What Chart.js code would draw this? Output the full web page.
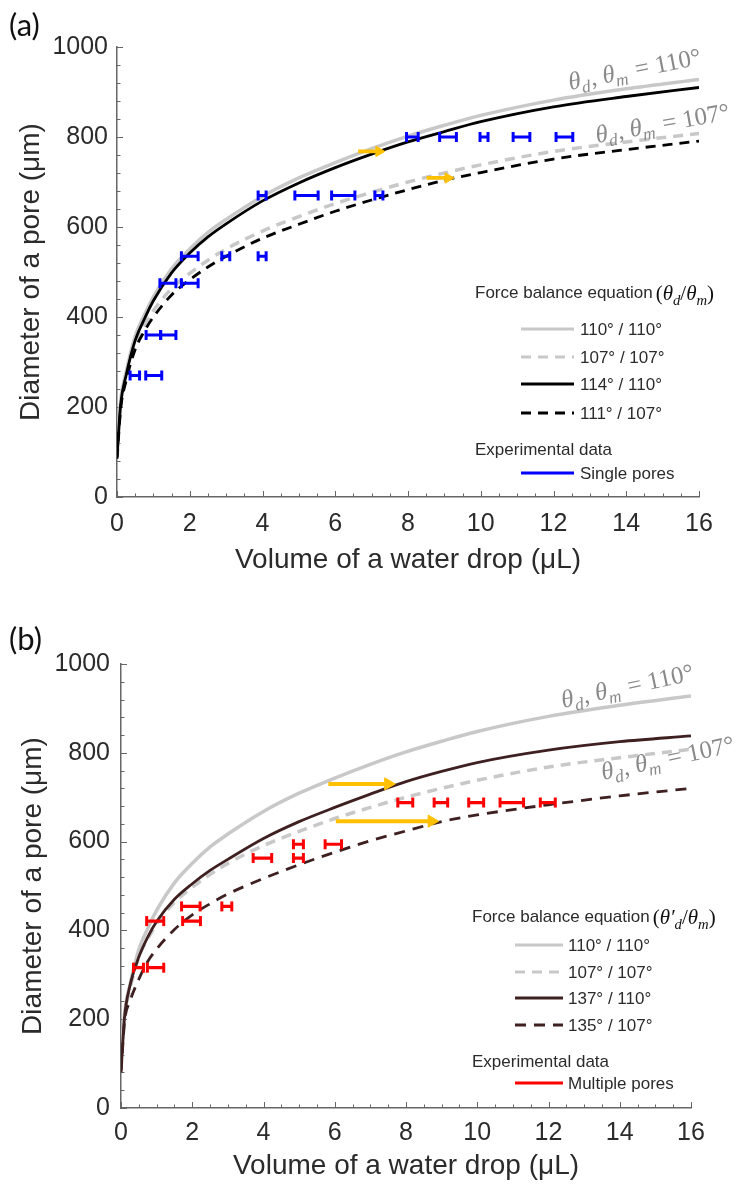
<!DOCTYPE html>
<html>
<head>
<meta charset="utf-8">
<script src="https://cdn.jsdelivr.net/npm/chart.js@4.4.1/dist/chart.umd.min.js"></script>
<style>
  html, body { margin: 0; padding: 0; background: #fff; }
  .panel { position: relative; width: 735px; height: 594px; }
  canvas { display: block; }
</style>
</head>
<body>
<div class="panel"><canvas id="poreA" width="735" height="594"></canvas></div>
<div class="panel"><canvas id="poreB" width="735" height="594"></canvas></div>
<script>
const SANS = '"Liberation Sans", Arial, sans-serif';
const SERIF = '"Liberation Serif", "DejaVu Serif", serif';
const INK = '#2b2b2b';
const AXIS = '#666';
const GOLD = '#FFC000';

// axis ticks
const X_TICKS = [0, 2, 4, 6, 8, 10, 12, 14, 16];
const Y_TICKS = [0, 200, 400, 600, 800, 1000];

// drop volume (uL) at which the model curves are sampled
const VOL = [0, 0.1, 0.25, 0.5, 0.75, 1, 1.5, 2, 2.5, 3, 4, 5, 6, 7, 8, 9, 10, 12, 14, 16];

// force balance curves, pore diameter (um)
const GREY_110 = [90, 212, 277, 357, 404, 445, 507, 551, 588, 617, 668, 709, 743, 774, 802, 826, 848, 882, 907, 928];
const GREY_107 = [86, 202, 267, 340, 381, 414, 463, 497, 526, 551, 591, 623, 652, 677, 700, 720, 738, 768, 789, 808];
const A_114_110 = [89, 205, 270, 348, 395, 436, 498, 542, 578, 607, 658, 698, 732, 762, 789, 812, 834, 867, 890, 910];
const A_111_107 = [85, 195, 258, 328, 368, 400, 449, 483, 511, 535, 575, 606, 635, 660, 683, 704, 721, 751, 772, 791];
const B_137_110 = [83, 205, 275, 340, 385, 420, 470, 505, 535, 560, 607, 645, 677, 707, 735, 758, 778, 806, 825, 838];
const B_135_107 = [80, 195, 240, 290, 330, 358, 402, 435, 460, 482, 517, 548, 576, 602, 624, 645, 660, 683, 703, 720];

// single pores: mean volume, half spread, pore diameter
const SINGLE_VOL = [0.49, 1.01, 1.0, 1.41, 1.4, 2.0, 2.0, 2.99, 3.99, 3.99, 5.21, 6.22, 7.2, 8.12, 9.1, 10.09, 11.12, 12.3];
const SINGLE_ERR = [0.13, 0.22, 0.2, 0.21, 0.22, 0.23, 0.23, 0.11, 0.11, 0.11, 0.32, 0.32, 0.11, 0.16, 0.23, 0.11, 0.23, 0.23];
const SINGLE_DIA = [270, 270, 360, 360, 475, 475, 535, 535, 535, 670, 670, 670, 670, 800, 800, 800, 800, 800];

// multiple pores
const MULTI_VOL = [0.49, 0.97, 0.96, 1.98, 1.96, 2.97, 3.97, 4.98, 4.98, 5.96, 7.98, 8.98, 9.97, 10.97, 11.98];
const MULTI_ERR = [0.14, 0.23, 0.24, 0.25, 0.26, 0.14, 0.26, 0.14, 0.14, 0.23, 0.21, 0.19, 0.21, 0.33, 0.21];
const MULTI_DIA = [316, 316, 421, 421, 454, 454, 563, 563, 594, 594, 688, 688, 688, 688, 688];

// shift arrows between the curve pairs
const ARROW_A_FROM = [6.63, 8.51];
const ARROW_A_TO = [7.2, 9.1];
const ARROW_A_DIA = [768, 709];
const ARROW_B_FROM = [5.82, 6.03];
const ARROW_B_TO = [7.5, 8.72];
const ARROW_B_DIA = [730, 646];

const curve = ys => VOL.map((v, i) => ({x: v, y: ys[i]}));
const bars = (vol, err, dia) => vol.flatMap((v, i) => [
  {x: v - err[i], y: dia[i]}, {x: v + err[i], y: dia[i]}, {x: v, y: null}]);
const arrows = (from, to, dia) => from.flatMap((f, i) => [
  {x: f, y: dia[i]}, {x: to[i], y: dia[i]}, {x: to[i], y: null}]);

function modelSet(label, ys, color, width, dash, order) {
  return {
    label, data: curve(ys), borderColor: color, borderWidth: width, borderDash: dash || [],
    pointRadius: 0, cubicInterpolationMode: 'monotone', fill: false, order
  };
}
function barSet(label, vol, err, dia, color) {
  return {
    label, data: bars(vol, err, dia), borderColor: color, borderWidth: 3.2,
    pointStyle: 'line', pointRotation: 90, pointRadius: 5,
    pointBorderColor: color, pointBorderWidth: 3, spanGaps: false, order: 1
  };
}
function arrowSet(from, to, dia, width, head) {
  return {
    label: 'shift', data: arrows(from, to, dia), borderColor: GOLD, borderWidth: width,
    pointStyle: 'triangle', pointRotation: 90,
    pointRadius: c => (c.dataIndex % 3 === 1 ? head : 0),
    pointBackgroundColor: GOLD, pointBorderColor: GOLD, pointBorderWidth: 1,
    spanGaps: false, order: 0
  };
}

// mixed upright / italic / subscript text on one baseline
function drawMath(ctx, parts, x, y, size, color) {
  ctx.save();
  ctx.fillStyle = color;
  ctx.textBaseline = 'alphabetic';
  let cx = x;
  for (const p of parts) {
    const s = p.sub ? size * 0.7 : size;
    ctx.font = (p.it ? 'italic ' : '') + s + 'px ' + SERIF;
    ctx.fillText(p.t, cx, y + (p.sub ? size * 0.22 : 0));
    cx += ctx.measureText(p.t).width + (p.gap || 0);
  }
  ctx.restore();
  return cx;
}

const inwardTicks = {
  id: 'inwardTicks',
  beforeDatasetsDraw(chart) {
    const {ctx, chartArea: a, scales: {x, y}} = chart;
    ctx.save();
    ctx.strokeStyle = AXIS;
    ctx.lineWidth = 1;
    ctx.beginPath();
    for (let v = 0; v <= 16; v += 0.5) {
      const px = Math.round(x.getPixelForValue(v)) + 0.5;
      ctx.moveTo(px, a.bottom);
      ctx.lineTo(px, a.bottom - (v % 2 === 0 ? 6 : 3.5));
    }
    for (let v = 0; v <= 1000; v += 40) {
      const py = Math.round(y.getPixelForValue(v)) + 0.5;
      ctx.moveTo(a.left, py);
      ctx.lineTo(a.left + (v % 200 === 0 ? 6 : 3.5), py);
    }
    ctx.stroke();
    ctx.restore();
  }
};

const decorations = {
  id: 'decorations',
  afterDraw(chart, args, o) {
    const ctx = chart.ctx;
    // panel letter
    ctx.save();
    ctx.fillStyle = '#111';
    ctx.font = '31px Lato, ' + SANS;
    ctx.textBaseline = 'middle';
    ctx.fillText(o.letter, 9, o.letterY);
    ctx.restore();

    // rotated curve labels
    for (const n of o.notes) {
      ctx.save();
      ctx.translate(n.x, n.y);
      ctx.rotate(n.rot * Math.PI / 180);
      drawMath(ctx, [
        {t: '\u03B8', it: 1}, {t: 'd', it: 1, sub: 1, gap: 1}, {t: ', '},
        {t: '\u03B8', it: 1}, {t: 'm', it: 1, sub: 1, gap: 2}, {t: ' = ' + n.text}
      ], 0, 0, 25, '#8a8a8a');
      ctx.restore();
    }

    // legend
    const L = o.legend;
    ctx.save();
    ctx.fillStyle = INK;
    ctx.textBaseline = 'middle';
    ctx.font = '17px ' + SANS;
    ctx.fillText('Force balance equation', L.x, L.titleY);
    const tx = L.x + ctx.measureText('Force balance equation').width + 3;
    drawMath(ctx, L.math, tx, L.titleY + 7, 21, '#111');
    ctx.font = '17px ' + SANS;
    ctx.fillText('Experimental data', L.x, L.expY);
    for (const r of L.rows) {
      const ds = chart.data.datasets[r.ds];
      ctx.save();
      ctx.strokeStyle = ds.borderColor;
      ctx.lineWidth = Math.min(ds.borderWidth, 3);
      ctx.setLineDash(ds.borderDash || []);
      ctx.beginPath();
      ctx.moveTo(L.lineX0, r.y);
      ctx.lineTo(L.lineX1, r.y);
      ctx.stroke();
      ctx.restore();
      ctx.fillText(ds.label, L.textX, r.y + 1);
    }
    ctx.restore();
  }
};

function scales(o) {
  return {
    x: {
      type: 'linear', min: 0, max: 16,
      afterBuildTicks: s => { s.ticks = X_TICKS.map(value => ({value})); },
      afterFit: s => { s.height = o.xHeight; },
      ticks: {color: INK, font: {family: SANS, size: 25}, padding: o.xPad, maxRotation: 0,
              autoSkip: false, callback: v => String(v)},
      grid: {drawOnChartArea: false, drawTicks: false},
      border: {color: AXIS, width: 1.5},
      title: {display: true, text: 'Volume of a water drop (\u03BCL)', color: INK,
              font: {family: SANS, size: 28}, padding: {top: 0, bottom: o.xTitlePad}}
    },
    y: {
      type: 'linear', min: 0, max: 1000,
      afterBuildTicks: s => { s.ticks = Y_TICKS.map(value => ({value})); },
      afterFit: s => { s.width = o.yWidth; },
      ticks: {color: INK, font: {family: SANS, size: 25}, padding: o.yPad, callback: v => String(v)},
      grid: {drawOnChartArea: false, drawTicks: false},
      border: {color: AXIS, width: 1.5},
      title: {display: true, text: 'Diameter of a pore (\u03BCm)', color: INK,
              font: {family: SANS, size: 28}, padding: {top: o.yTitlePad, bottom: 0}}
    }
  };
}

function build(id, datasets, layout, deco) {
  return new Chart(document.getElementById(id), {
    type: 'line',
    data: {datasets},
    options: {
      responsive: false, animation: false, events: [],
      layout: {padding: layout.padding},
      plugins: {legend: {display: false}, tooltip: {enabled: false}, decorations: deco},
      scales: scales(layout)
    },
    plugins: [inwardTicks, decorations]
  });
}

const DASH = [10, 7];

build('poreA', [
  modelSet('110\u00B0 / 110\u00B0', GREY_110, '#c8c8c8', 3.5, null, 4),
  modelSet('107\u00B0 / 107\u00B0', GREY_107, '#c8c8c8', 3.5, DASH, 4),
  modelSet('114\u00B0 / 110\u00B0', A_114_110, '#000', 2.8, null, 3),
  modelSet('111\u00B0 / 107\u00B0', A_111_107, '#000', 2.8, DASH, 3),
  barSet('Single pores', SINGLE_VOL, SINGLE_ERR, SINGLE_DIA, '#0000ff'),
  arrowSet(ARROW_A_FROM, ARROW_A_TO, ARROW_A_DIA, 3.8, 6)
], {
  padding: {top: 47, right: 36, left: 0, bottom: 0},
  xHeight: 97, yWidth: 117, xPad: 12, yPad: 9, xTitlePad: 17, yTitlePad: 14
}, {
  letter: '(a)', letterY: 26,
  notes: [
    {x: 570, y: 90, rot: -11, text: '110\u00B0'},
    {x: 597, y: 143, rot: -10, text: '107\u00B0'}
  ],
  legend: {
    x: 475, titleY: 293, expY: 450, lineX0: 521, lineX1: 574, textX: 580,
    math: [{t: '('}, {t: '\u03B8', it: 1}, {t: 'd', it: 1, sub: 1}, {t: '/'},
           {t: '\u03B8', it: 1}, {t: 'm', it: 1, sub: 1}, {t: ')'}],
    rows: [{ds: 0, y: 329}, {ds: 1, y: 357}, {ds: 2, y: 384}, {ds: 3, y: 413}, {ds: 4, y: 473}]
  }
});

build('poreB', [
  modelSet('110\u00B0 / 110\u00B0', GREY_110, '#c8c8c8', 3.5, null, 4),
  modelSet('107\u00B0 / 107\u00B0', GREY_107, '#c8c8c8', 3.5, DASH, 4),
  modelSet('137\u00B0 / 110\u00B0', B_137_110, '#3f2020', 2.8, null, 3),
  modelSet('135\u00B0 / 107\u00B0', B_135_107, '#3f2020', 2.8, [11, 8], 3),
  barSet('Multiple pores', MULTI_VOL, MULTI_ERR, MULTI_DIA, '#ff0000'),
  arrowSet(ARROW_B_FROM, ARROW_B_TO, ARROW_B_DIA, 4, 7)
], {
  padding: {top: 70, right: 44, left: 0, bottom: 0},
  xHeight: 80, yWidth: 121, xPad: 10, yPad: 11, xTitlePad: 5, yTitlePad: 16
}, {
  letter: '(b)', letterY: 46,
  notes: [
    {x: 563, y: 114, rot: -12, text: '110\u00B0'},
    {x: 603, y: 186, rot: -12, text: '107\u00B0'}
  ],
  legend: {
    x: 472, titleY: 323, expY: 468, lineX0: 515, lineX1: 563, textX: 568,
    math: [{t: '('}, {t: '\u03B8\u2032', it: 1}, {t: 'd', it: 1, sub: 1}, {t: '/'},
           {t: '\u03B8', it: 1}, {t: 'm', it: 1, sub: 1}, {t: ')'}],
    rows: [{ds: 0, y: 351}, {ds: 1, y: 378}, {ds: 2, y: 404}, {ds: 3, y: 431}, {ds: 4, y: 489}]
  }
});
</script>
</body>
</html>
